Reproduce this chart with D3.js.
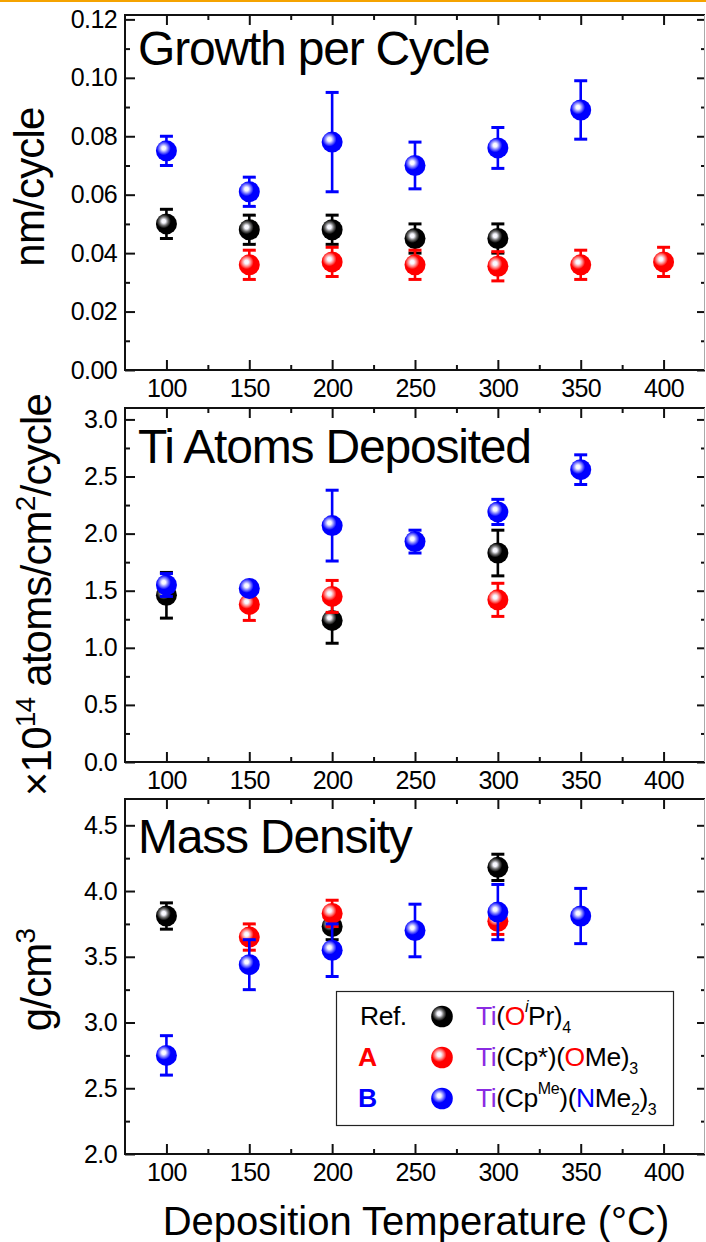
<!DOCTYPE html>
<html>
<head>
<meta charset="utf-8">
<script src="https://cdn.jsdelivr.net/npm/d3@7"></script>
<style>
  body { margin: 0; background: #fff; }
  svg text { font-family: "Liberation Sans", Arial, sans-serif; }
</style>
</head>
<body>
<div id="chart"></div>
<script>
// deposition temperatures (°C)
const temps = [100, 150, 200, 250, 300, 350, 400];

// growth per cycle, nm/cycle
const gpcRef    = [0.050, 0.048, 0.048, 0.045, 0.045, null, null];
const gpcRefErr = [0.005, 0.005, 0.005, 0.005, 0.005, null, null];
const gpcA      = [null, 0.036, 0.037, 0.036, 0.0355, 0.036, 0.037];
const gpcAErr   = [null, 0.005, 0.005, 0.005, 0.005, 0.005, 0.005];
const gpcB      = [0.075, 0.061, 0.078, 0.070, 0.076, 0.089, null];
const gpcBErr   = [0.005, 0.005, 0.017, 0.008, 0.007, 0.010, null];

// Ti atoms deposited, x10^14 atoms/cm2/cycle
const atomsRef    = [1.46, null, 1.24, null, 1.83, null, null];
const atomsRefErr = [0.20, null, 0.20, null, 0.20, null, null];
const atomsA      = [null, 1.38, 1.45, null, 1.42, null, null];
const atomsAErr   = [null, 0.14, 0.14, null, 0.145, null, null];
const atomsB      = [1.55, 1.52, 2.07, 1.93, 2.19, 2.56, null];
const atomsBErr   = [0.10, 0.05, 0.31, 0.10, 0.11, 0.13, null];

// mass density, g/cm3
const densRef    = [3.81, null, 3.73, null, 4.18, null, null];
const densRefErr = [0.10, null, 0.10, null, 0.10, null, null];
const densA      = [null, 3.65, 3.83, null, 3.77, null, null];
const densAErr   = [null, 0.10, 0.10, null, 0.10, null, null];
const densB      = [2.75, 3.44, 3.55, 3.70, 3.84, 3.81, null];
const densBErr   = [0.15, 0.19, 0.20, 0.20, 0.21, 0.21, null];

// tick values
const xMajor = [100, 150, 200, 250, 300, 350, 400];
const xMinor = [125, 175, 225, 275, 325, 375];
const gpcTicks = [0, 0.02, 0.04, 0.06, 0.08, 0.10, 0.12];
const gpcMinor = [0.01, 0.03, 0.05, 0.07, 0.09, 0.11];
const atomsTicks = [0, 0.5, 1.0, 1.5, 2.0, 2.5, 3.0];
const atomsMinor = [0.25, 0.75, 1.25, 1.75, 2.25, 2.75];
const densTicks = [2.0, 2.5, 3.0, 3.5, 4.0, 4.5];
const densMinor = [2.25, 2.75, 3.25, 3.75, 4.25];

const width = 706, height = 1242;
const left = 125, right = 705;

const colors = { ref: "#000000", A: "#ff0000", B: "#0000ff" };

const svg = d3.select("#chart")
    .append("svg")
    .attr("width", width)
    .attr("height", height)
    .attr("viewBox", [0, 0, width, height])
;

// orange strip along the top edge
svg.append("rect")
    .attr("x", 0).attr("y", 0)
    .attr("width", width).attr("height", 2)
    .attr("fill", "#f5a300");

// shaded spheres
const defs = svg.append("defs");
function sphere(id, base, mid) {
    const grad = defs.append("radialGradient")
        .attr("id", id)
        .attr("cx", 0.37).attr("cy", 0.37).attr("r", 0.65);
    grad.append("stop").attr("offset", 0).attr("stop-color", "#ffffff");
    grad.append("stop").attr("offset", 0.14).attr("stop-color", "#f6f6ff");
    grad.append("stop").attr("offset", 0.32).attr("stop-color", mid);
    grad.append("stop").attr("offset", 0.52).attr("stop-color", base);
    grad.append("stop").attr("offset", 1).attr("stop-color", base);
}
sphere("ballRef", "#000000", "#707070");
sphere("ballA", "#ff0000", "#ff8a8a");
sphere("ballB", "#0000ff", "#8080ff");
const fills = { ref: "url(#ballRef)", A: "url(#ballA)", B: "url(#ballB)" };

const x = d3.scaleLinear().domain([75, 425]).range([left, right]);

const panels = [
    {
        top: 15, bottom: 370, domain: [0, 0.1215],
        ticks: gpcTicks, minor: gpcMinor, fmt: d3.format(".2f"),
        title: "Growth per Cycle", titleY: 65,
        series: [
            ["ref", gpcRef, gpcRefErr], ["A", gpcA, gpcAErr], ["B", gpcB, gpcBErr]
        ]
    },
    {
        top: 408, bottom: 762, domain: [0, 3.1],
        ticks: atomsTicks, minor: atomsMinor, fmt: d3.format(".1f"),
        title: "Ti Atoms Deposited", titleY: 463,
        series: [
            ["ref", atomsRef, atomsRefErr], ["A", atomsA, atomsAErr], ["B", atomsB, atomsBErr]
        ]
    },
    {
        top: 799, bottom: 1154, domain: [2.0, 4.7],
        ticks: densTicks, minor: densMinor, fmt: d3.format(".1f"),
        title: "Mass Density", titleY: 853,
        series: [
            ["ref", densRef, densRefErr], ["A", densA, densAErr], ["B", densB, densBErr]
        ]
    }
];

panels.forEach(p => {
    const y = d3.scaleLinear().domain(p.domain).range([p.bottom, p.top]);
    const g = svg.append("g");

    // axes: ticks point inward
    const addAxis = (axis, tx, ty, labels) => {
        const a = g.append("g")
            .attr("transform", `translate(${tx},${ty})`)
            .call(axis);
        a.select(".domain").remove();
        a.selectAll(".tick line").attr("stroke", "#111").attr("stroke-width", 2);
        if (labels) {
            a.selectAll(".tick text")
                .attr("fill", "#000")
                .style("font-size", "25px")
                .style("letter-spacing", "-0.6px");
        }
        return a;
    };

    addAxis(d3.axisBottom(x).tickValues(xMajor).tickSize(-10).tickPadding(9).tickFormat(d3.format("d")), 0, p.bottom, true);
    addAxis(d3.axisBottom(x).tickValues(xMinor).tickSize(-5).tickFormat(""), 0, p.bottom, false);
    addAxis(d3.axisTop(x).tickValues(xMajor).tickSize(-10).tickFormat(""), 0, p.top, false);
    addAxis(d3.axisTop(x).tickValues(xMinor).tickSize(-5).tickFormat(""), 0, p.top, false);

    addAxis(d3.axisLeft(y).tickValues(p.ticks).tickSize(-10).tickPadding(8).tickFormat(p.fmt), left, 0, true);
    addAxis(d3.axisLeft(y).tickValues(p.minor).tickSize(-5).tickFormat(""), left, 0, false);
    addAxis(d3.axisRight(y).tickValues(p.ticks).tickSize(-8).tickFormat(""), right, 0, false);
    addAxis(d3.axisRight(y).tickValues(p.minor).tickSize(-4).tickFormat(""), right, 0, false);

    // frame
    g.append("path")
        .attr("d", `M${right},${p.top}H${left}V${p.bottom}H${right}`)
        .attr("fill", "none")
        .attr("stroke", "#111")
        .attr("stroke-width", 2);
    g.append("line")
        .attr("x1", right - 0.5).attr("x2", right - 0.5)
        .attr("y1", p.top).attr("y2", p.bottom)
        .attr("stroke", "#aaa").attr("stroke-width", 1);

    // panel title
    g.append("text")
        .attr("x", 138)
        .attr("y", p.titleY)
        .style("font-size", "48px")
        .style("letter-spacing", "-1.2px")
        .text(p.title);

    // data: error bars then sphere, series by series
    p.series.forEach(([key, vals, errs]) => {
        const pts = temps.map((t, i) => ({ t, v: vals[i], e: errs[i] }))
            .filter(d => d.v != null);
        const s = g.append("g");
        const eb = s.selectAll("g.err").data(pts.filter(d => d.e != null)).join("g")
            .attr("stroke", colors[key]);
        eb.append("line")
            .attr("x1", d => x(d.t)).attr("x2", d => x(d.t))
            .attr("y1", d => y(d.v - d.e)).attr("y2", d => y(d.v + d.e))
            .attr("stroke-width", 2.6);
        eb.append("line")
            .attr("x1", d => x(d.t) - 6.5).attr("x2", d => x(d.t) + 6.5)
            .attr("y1", d => y(d.v + d.e)).attr("y2", d => y(d.v + d.e))
            .attr("stroke-width", 3);
        eb.append("line")
            .attr("x1", d => x(d.t) - 6.5).attr("x2", d => x(d.t) + 6.5)
            .attr("y1", d => y(d.v - d.e)).attr("y2", d => y(d.v - d.e))
            .attr("stroke-width", 3);
        s.selectAll("circle").data(pts).join("circle")
            .attr("cx", d => x(d.t))
            .attr("cy", d => y(d.v))
            .attr("r", 10.5)
            .attr("fill", fills[key]);
    });
});

// y axis titles
svg.append("text")
    .attr("transform", "translate(44,187) rotate(-90)")
    .attr("text-anchor", "middle")
    .style("font-size", "42px")
    .style("letter-spacing", "-0.8px")
    .text("nm/cycle");

const t2 = svg.append("text")
    .attr("transform", "translate(51,595) rotate(-90)")
    .attr("text-anchor", "middle")
    .style("font-size", "42px")
    .style("letter-spacing", "-0.8px");
t2.append("tspan").text("×10");
t2.append("tspan").attr("dy", -16).style("font-size", "28px").text("14");
t2.append("tspan").attr("dy", 16).text(" atoms/cm");
t2.append("tspan").attr("dy", -16).style("font-size", "28px").text("2");
t2.append("tspan").attr("dy", 16).text("/cycle");

const t3 = svg.append("text")
    .attr("transform", "translate(51,980) rotate(-90)")
    .attr("text-anchor", "middle")
    .style("font-size", "42px")
    .style("letter-spacing", "-0.8px");
t3.append("tspan").text("g/cm");
t3.append("tspan").attr("dy", -16).style("font-size", "28px").text("3");

// x axis title
svg.append("text")
    .attr("x", 416)
    .attr("y", 1235)
    .attr("text-anchor", "middle")
    .style("font-size", "40px")
    .text("Deposition Temperature (°C)");

// legend
const legendKeys = ["ref", "A", "B"];
const legendNames = ["Ref.", "A", "B"];
const legendFormulas = [
    [["Ti", "#8a2be2"], ["(", "#000"], ["O", "#ff0000"], ["i", "#000", "sup", "italic"], ["Pr)", "#000"], ["4", "#000", "sub"]],
    [["Ti", "#8a2be2"], ["(Cp*)(", "#000"], ["O", "#ff0000"], ["Me)", "#000"], ["3", "#000", "sub"]],
    [["Ti", "#8a2be2"], ["(Cp", "#000"], ["Me", "#000", "sup"], [")(", "#000"], ["N", "#0000ff"], ["Me", "#000"], ["2", "#000", "sub"], [")", "#000"], ["3", "#000", "sub"]]
];

const legend = svg.append("g");
legend.append("rect")
    .attr("x", 336.5).attr("y", 991.5)
    .attr("width", 337).attr("height", 134)
    .attr("fill", "#fff")
    .attr("stroke", "#222")
    .attr("stroke-width", 1.2);

const rowY = d3.scalePoint().domain(legendKeys).range([1025, 1107]);

legendKeys.forEach((k, i) => {
    const by = rowY(k);
    legend.append("text")
        .attr("x", k === "ref" ? 360 : 358)
        .attr("y", by)
        .style("font-size", "26.5px")
        .style("font-weight", k === "ref" ? "normal" : "bold")
        .style("letter-spacing", "-0.5px")
        .attr("fill", colors[k])
        .text(legendNames[i]);
    legend.append("circle")
        .attr("cx", 442).attr("cy", by - 8.5)
        .attr("r", 10.8)
        .attr("fill", fills[k]);
    const ft = legend.append("text")
        .attr("x", 476)
        .attr("y", by)
        .style("font-size", "26.5px")
        .style("letter-spacing", "-0.4px");
    let shift = 0;
    legendFormulas[i].forEach(([txt, col, pos, style]) => {
        const target = pos === "sup" ? -13 : pos === "sub" ? 8 : 0;
        const ts = ft.append("tspan")
            .attr("dy", target - shift)
            .attr("fill", col)
            .text(txt);
        if (pos) ts.style("font-size", "16px");
        if (style) ts.style("font-style", style);
        shift = target;
    });
});
</script>
</body>
</html>
